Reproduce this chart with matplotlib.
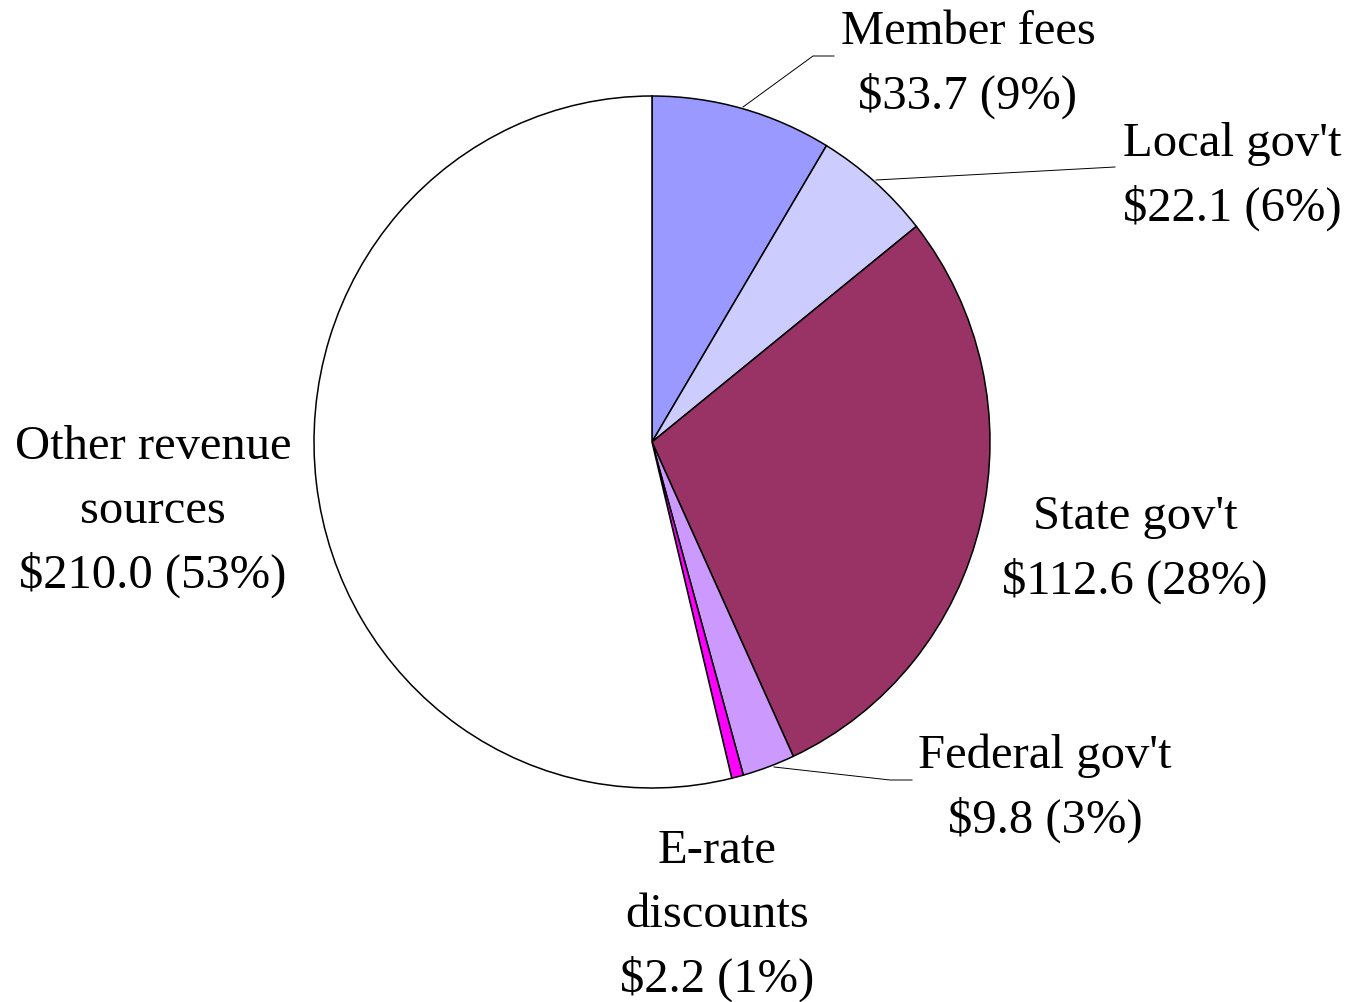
import matplotlib
matplotlib.use("Agg")
import matplotlib.pyplot as plt

# Receitas (milhões de $)
labels = ["Member fees", "Local gov't", "State gov't", "Federal gov't",
          "E-rate\ndiscounts", "Other revenue\nsources"]
values = [33.7, 22.1, 112.6, 9.8, 2.2, 210.0]
percents = [9, 6, 28, 3, 1, 53]
colors = ["#9999FF", "#CCCCFF", "#993366", "#CC99FF", "#FF00FF", "#FFFFFF"]

W, H = 1350, 1003
cx, cy = 652, 443      # centro da pizza em pixels
rx, ry = 338, 346      # raio horizontal / vertical em pixels

plt.rcParams['font.family'] = ['Liberation Serif', 'DejaVu Serif']

fig = plt.figure(figsize=(W / 100, H / 100), dpi=100)
ax = fig.add_axes([0, 0, 1, 1])
ax.pie(values, colors=colors, startangle=90, counterclock=False,
       wedgeprops={"edgecolor": "black", "linewidth": 1.1})
ax.set_aspect("auto")
ax.set_xlim(-cx / rx, (W - cx) / rx)
ax.set_ylim(-(H - cy) / ry, cy / ry)
ax.axis("off")


def px(x, y):
    return (x - cx) / rx, (cy - y) / ry


# posição do rótulo: x central e linha de base da primeira linha (pixels)
label_pos = [(968, 44), (1232, 156), (1135, 529), (1045, 768),
             (717, 863), (153, 459)]
line_step = 64.5

for lab, v, p, (x, y) in zip(labels, values, percents, label_pos):
    lines = lab.split("\n") + [f"${v:.1f} ({p}%)"]
    for k, line in enumerate(lines):
        tx, ty = px(x, y + k * line_step)
        ax.text(tx, ty, line, ha="center", va="baseline", fontsize=35)

# linhas de chamada
leaders = [
    [(743, 108), (813, 57), (834, 57)],
    [(876, 181), (1115, 168)],
    [(774, 768), (890, 781), (912, 781)],
]
for pts in leaders:
    xs, ys = zip(*[px(a, b) for a, b in pts])
    ax.plot(xs, ys, color="black", linewidth=0.7)

fig.savefig("out.png", dpi=100)
